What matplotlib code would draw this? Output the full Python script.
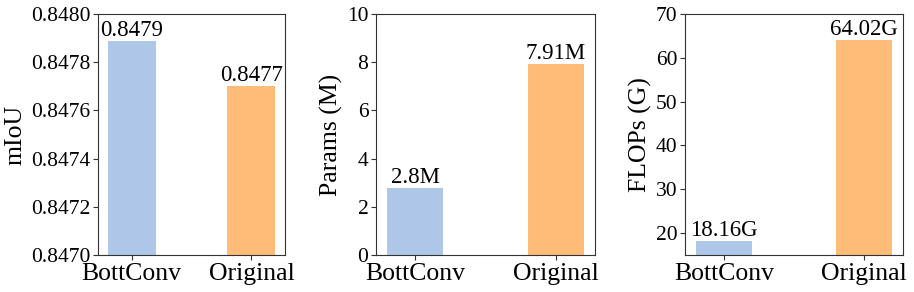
import matplotlib
matplotlib.use("Agg")
import matplotlib.pyplot as plt

plt.rcParams['font.family'] = ['Liberation Serif', 'DejaVu Serif']

categories = ["BottConv", "Original"]
miou = [0.84789, 0.84770]
params = [2.8, 7.91]
flops = [18.16, 64.02]
miou_labels = ["0.8479", "0.8477"]
params_labels = ["2.8M", "7.91M"]
flops_labels = ["18.16G", "64.02G"]
colors = ["#aec7e8", "#ffbb78"]

W, H = 914, 292
fig = plt.figure(figsize=(W / 100, H / 100), dpi=100)

def add_ax(l, r, t=14, b=255):
    return fig.add_axes([l / W, 1 - b / H, (r - l) / W, (b - t) / H])

axes = [add_ax(98, 285), add_ax(376, 595), add_ax(685, 903)]
data = [
    (miou, miou_labels, "mIoU", (0.8470, 0.8480), [0.8470, 0.8472, 0.8474, 0.8476, 0.8478, 0.8480], "{:.4f}"),
    (params, params_labels, "Params (M)", (0, 10), [0, 2, 4, 6, 8, 10], "{:g}"),
    (flops, flops_labels, "FLOPs (G)", (15, 70), [20, 30, 40, 50, 60, 70], "{:g}"),
]
for ax, (vals, labs, ylabel, ylim, yticks, fmt) in zip(axes, data):
    x = list(range(len(categories)))
    bars = ax.bar(x, vals, width=0.4, color=colors)
    ax.set_ylim(*ylim)
    ax.set_xlim(-0.28, 1.28)
    ax.set_yticks(yticks)
    ax.set_yticklabels([fmt.format(v) for v in yticks], fontsize=15.5)
    ax.set_xticks(x)
    ax.set_xticklabels(categories, fontsize=18.5)
    ax.set_ylabel(ylabel, fontsize=18.5, labelpad=3)
    for b, lab in zip(bars, labs):
        ax.text(b.get_x() + b.get_width() / 2, b.get_height(), lab,
                ha="center", va="bottom", fontsize=16.5)
    for s in ax.spines.values():
        s.set_color("#333333")
    ax.tick_params(colors="#333333", labelcolor="black")
    ax.tick_params(axis="x", pad=2.5)
    ax.tick_params(axis="y", pad=2)

fig.savefig("out.png", dpi=100)
